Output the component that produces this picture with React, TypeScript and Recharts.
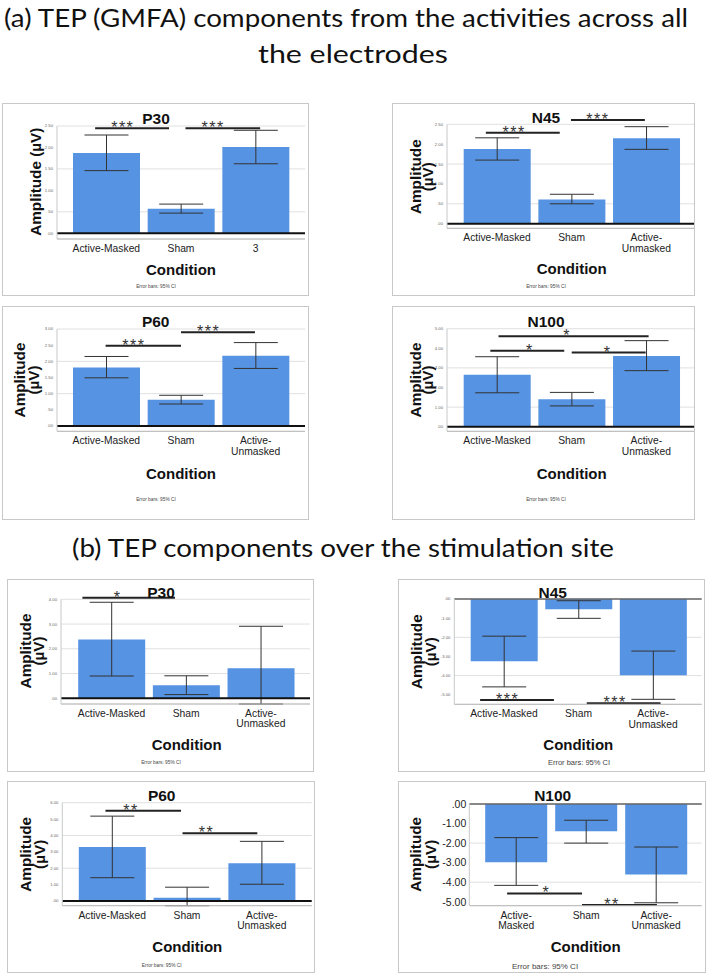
import React from 'react';
import {
  BarChart,
  Bar,
  XAxis,
  YAxis,
  CartesianGrid,
  ErrorBar,
  ReferenceLine,
} from 'recharts';

const SANS = '"Liberation Sans", Arial, sans-serif';
const HEAD = 'Lato, "Open Sans", sans-serif';
const BLUE = '#5693e3';

// categories (\n = line break in the tick label)
const condA1 = ['Active-Masked', 'Sham', '3'];
const condStd = ['Active-Masked', 'Sham', 'Active-\nUnmasked'];
const condB4 = ['Active-\nMasked', 'Sham', 'Active-\nUnmasked'];

// (a) GMFA, all electrodes: mean and 95% CI bounds
const gmfaP30Mean = [1.87, 0.57, 2.01];
const gmfaP30Low = [1.46, 0.47, 1.62];
const gmfaP30High = [2.29, 0.68, 2.4];

const gmfaN45Mean = [1.88, 0.61, 2.15];
const gmfaN45Low = [1.6, 0.5, 1.87];
const gmfaN45High = [2.16, 0.74, 2.44];

const gmfaP60Mean = [1.81, 0.81, 2.17];
const gmfaP60Low = [1.49, 0.68, 1.78];
const gmfaP60High = [2.15, 0.95, 2.58];

const gmfaN100Mean = [2.65, 1.4, 3.61];
const gmfaN100Low = [1.73, 1.06, 2.86];
const gmfaN100High = [3.57, 1.75, 4.39];

// (b) stimulation site
const siteP30Mean = [2.38, 0.53, 1.21];
const siteP30Low = [0.9, 0.15, -0.23];
const siteP30High = [3.88, 0.91, 2.91];

const siteN45Mean = [-3.25, -0.54, -3.98];
const siteN45Low = [-4.59, -1.01, -5.24];
const siteN45High = [-1.94, -0.09, -2.72];

const siteP60Mean = [3.29, 0.2, 2.3];
const siteP60Low = [1.42, -0.29, 1.02];
const siteP60High = [5.18, 0.84, 3.64];

const siteN100Mean = [-2.98, -1.39, -3.6];
const siteN100Low = [-4.16, -2.0, -5.05];
const siteN100High = [-1.72, -0.83, -2.2];

// y ticks
const ticksA1 = [0, 0.5, 1, 1.5, 2, 2.5];
const ticksA3 = [0, 0.5, 1, 1.5, 2, 2.5, 3];
const ticksA4 = [0, 1, 2, 3, 4, 5];
const ticksB1 = [0, 1, 2, 3, 4];
const ticksB3 = [0, 1, 2, 3, 4, 5, 6];
const ticksNeg = [-5, -4, -3, -2, -1, 0];

// significance brackets: from / to / at are positions along the category axis
// (band units: bar i covers i..i+1, its centre is i + 0.5)
const gmfaP30Sig = [
  { from: 0.35, to: 1.34, at: 0.72, y: 2.45, label: '***' },
  { from: 1.56, to: 2.56, at: 1.93, y: 2.45, label: '***' },
];
const gmfaN45Sig = [
  { from: 0.35, to: 1.34, at: 0.73, y: 2.29, label: '***' },
  { from: 1.49, to: 2.48, at: 1.85, y: 2.61, label: '***' },
];
const gmfaP60Sig = [
  { from: 0.49, to: 1.5, at: 0.87, y: 2.48, label: '***' },
  { from: 1.5, to: 2.49, at: 1.87, y: 2.9, label: '***' },
];
const gmfaN100Sig = [
  { from: 0.52, to: 2.53, at: 1.44, y: 4.61, label: '*' },
  { from: 0.41, to: 1.4, at: 0.94, y: 3.88, label: '*' },
  { from: 1.5, to: 2.49, at: 1.98, y: 3.78, label: '*' },
];
const siteP30Sig = [{ from: 0.11, to: 1.35, at: 0.58, y: 4.06, label: '*' }];
const siteN45Sig = [
  { from: 0.18, to: 1.17, at: 0.55, y: -5.28, label: '***' },
  { from: 1.61, to: 2.6, at: 1.99, y: -5.45, label: '***' },
];
const siteP60Sig = [
  { from: 0.41, to: 1.42, at: 0.75, y: 5.51, label: '**' },
  { from: 1.44, to: 2.44, at: 1.76, y: 4.13, label: '**' },
];
const siteN100Sig = [
  { from: 0.37, to: 1.44, at: 0.93, y: -4.57, label: '*' },
  { from: 1.44, to: 2.51, at: 1.87, y: -5.17, label: '**' },
];

type Sig = { from: number; to: number; at: number; y: number; label: string };

type Layout = {
  left: number;
  top: number;
  w: number;
  h: number;
  plotLeft: number;
  plotRight: number;
  plotTop: number;
  plotBottom: number;
  padL: number;
  padR: number;
  gap: number;
  title: [number, number];
  yLab: number[];
  yLabY: number;
  cond: [number, number];
  note: [number, number];
  noteSize: number;
  tickFont: number;
  zeroTop?: boolean;
};

const fmt = (v: number) => {
  const s = Math.abs(v).toFixed(2);
  return (v < 0 ? '-' : '') + (s.startsWith('0') ? s.slice(1) : s);
};

// nearest bar index for a band position
const bandIdx = (p: number) => Math.min(2, Math.max(0, Math.round(p - 0.5)));

const ConditionTick = ({ x, y, payload }: any) => {
  const lines = String(payload.value).split('\n');
  return (
    <text x={x} y={y} textAnchor="middle" fontSize={10.3} fill="#222" fontFamily={SANS}>
      {lines.map((l, i) => (
        <tspan key={i} x={x} dy={i === 0 ? 13 : 10.4}>
          {l}
        </tspan>
      ))}
    </text>
  );
};

interface PanelProps {
  title: string;
  categories: string[];
  mean: number[];
  low: number[];
  high: number[];
  ticks: number[];
  domain: [number, number];
  sig: Sig[];
  lay: Layout;
}

const Panel: React.FC<PanelProps> = ({ title, categories, mean, low, high, ticks, domain, sig, lay }) => {
  const cw = lay.w - 2;
  const ch = lay.h - 2;
  const data = categories.map((c, i) => ({
    name: c,
    mean: mean[i],
    err: [mean[i] - low[i], high[i] - mean[i]],
  }));
  const yLines = lay.yLab.length === 1 ? ['Amplitude (µV)'] : ['Amplitude', '(µV)'];

  return (
    <div
      style={{
        position: 'absolute',
        left: lay.left,
        top: lay.top,
        width: lay.w,
        height: lay.h,
        boxSizing: 'border-box',
        border: '1px solid #c8c8c8',
        background: '#fff',
      }}
    >
      <div style={{ position: 'absolute', left: 0, top: 0 }}>
        <BarChart
          width={cw}
          height={ch}
          data={data}
          margin={{ top: lay.plotTop, right: cw - lay.plotRight, left: 0, bottom: 0 }}
          barCategoryGap={lay.gap}
        >
          <CartesianGrid vertical={false} stroke="#e0e0e0" />
          <XAxis
            dataKey="name"
            height={ch - lay.plotBottom}
            padding={{ left: lay.padL, right: lay.padR }}
            tickLine={false}
            tickSize={0}
            tickMargin={0}
            axisLine={{ stroke: '#b8b8b8' }}
            tick={<ConditionTick />}
            interval={0}
          />
          <YAxis
            width={lay.plotLeft}
            domain={domain}
            ticks={ticks}
            allowDataOverflow
            tickFormatter={fmt}
            tickLine={false}
            tickSize={0}
            tickMargin={lay.tickFont > 6 ? 3 : 4}
            axisLine={{ stroke: '#c8c8c8' }}
            tick={{ fontSize: lay.tickFont, fill: lay.tickFont > 6 ? '#222' : '#666', fontFamily: SANS }}
          />
          <Bar dataKey="mean" fill={BLUE} isAnimationActive={false}>
            <ErrorBar dataKey="err" direction="y" width={22} stroke="#333" strokeWidth={1} isAnimationActive={false} />
          </Bar>
          <ReferenceLine y={0} stroke={lay.zeroTop ? '#666' : '#111'} strokeWidth={lay.zeroTop ? 1.5 : 2} />
          {sig.map((s, i) => {
            const i1 = bandIdx(s.from);
            const i2 = bandIdx(s.to);
            return (
              <ReferenceLine
                key={i}
                segment={[
                  { x: categories[i1], y: s.y },
                  { x: categories[i2], y: s.y },
                ]}
                ifOverflow="visible"
                shape={(p: any) => {
                  const lo = Math.min(p.x1, p.x2);
                  const hi = Math.max(p.x1, p.x2);
                  const bw = (hi - lo) / (i2 - i1);
                  const px = (v: number) => lo + (v - (i1 + 0.5)) * bw;
                  return (
                    <g>
                      <line x1={px(s.from)} y1={p.y1} x2={px(s.to)} y2={p.y1} stroke="#222" strokeWidth={2} />
                      <text
                        x={px(s.at)}
                        y={p.y1 + 5}
                        textAnchor="middle"
                        fontSize={16}
                        letterSpacing={1.5}
                        fill="#333"
                        fontFamily={SANS}
                      >
                        {s.label}
                      </text>
                    </g>
                  );
                }}
              />
            );
          })}
        </BarChart>
      </div>
      <svg
        width={cw}
        height={ch}
        style={{ position: 'absolute', left: 0, top: 0, pointerEvents: 'none' }}
        fontFamily={SANS}
      >
        <text x={lay.title[0]} y={lay.title[1]} textAnchor="middle" dominantBaseline="central" fontSize={15.5} fontWeight="bold" fill="#111">
          {title}
        </text>
        {yLines.map((t, i) => (
          <text
            key={t}
            transform={`translate(${lay.yLab[i]},${lay.yLabY}) rotate(-90)`}
            textAnchor="middle"
            dominantBaseline="central"
            fontSize={15.3}
            fontWeight="bold"
            fill="#111"
          >
            {t}
          </text>
        ))}
        <text x={lay.cond[0]} y={lay.cond[1]} textAnchor="middle" dominantBaseline="central" fontSize={15} fontWeight="bold" fill="#111">
          Condition
        </text>
        <text x={lay.note[0]} y={lay.note[1]} textAnchor="middle" dominantBaseline="central" fontSize={lay.noteSize} fill="#444">
          Error bars: 95% CI
        </text>
      </svg>
    </div>
  );
};

const layA1: Layout = {
  left: 2, top: 103, w: 307, h: 193,
  plotLeft: 54, plotRight: 302, plotTop: 22, plotBottom: 135,
  padL: 12, padR: 12, gap: 4,
  title: [153, 14.3], yLab: [32], yLabY: 77.7, cond: [178, 165], note: [153, 182], noteSize: 4.8, tickFont: 4.2,
};
const layA2: Layout = {
  left: 392, top: 103, w: 303, h: 193,
  plotLeft: 54, plotRight: 301, plotTop: 20.3, plotBottom: 124.3,
  padL: 12.7, padR: 10.3, gap: 4,
  title: [153, 13.7], yLab: [22, 34], yLabY: 72.7, cond: [178.7, 164.3], note: [153, 182], noteSize: 4.8, tickFont: 4.2,
};
const layA3: Layout = {
  left: 2, top: 306, w: 307, h: 214,
  plotLeft: 54, plotRight: 302, plotTop: 22, plotBottom: 124.3,
  padL: 12, padR: 12, gap: 4,
  title: [152.7, 14], yLab: [16, 30], yLabY: 73, cond: [178, 166], note: [153, 192], noteSize: 4.8, tickFont: 4.2,
};
const layA4: Layout = {
  left: 392, top: 306, w: 303, h: 214,
  plotLeft: 54, plotRight: 301, plotTop: 21.7, plotBottom: 124.3,
  padL: 12.7, padR: 10.3, gap: 4,
  title: [153, 14], yLab: [22, 34], yLabY: 73, cond: [178.7, 166], note: [153, 192], noteSize: 4.8, tickFont: 4.2,
};
const layB1: Layout = {
  left: 7, top: 579, w: 307, h: 193,
  plotLeft: 53, plotRight: 302, plotTop: 19.3, plotBottom: 124,
  padL: 13.2, padR: 11.8, gap: 4,
  title: [153, 12.3], yLab: [17, 30], yLabY: 71, cond: [178.7, 164], note: [153, 182], noteSize: 4.8, tickFont: 4.2,
};
const layB2: Layout = {
  left: 398, top: 579, w: 307, h: 193,
  plotLeft: 55.3, plotRight: 302.7, plotTop: 19, plotBottom: 124.3,
  padL: 12.4, padR: 11.3, gap: 4,
  title: [153.7, 12.3], yLab: [17, 31.7], yLabY: 71.7, cond: [179.3, 164], note: [180, 182], noteSize: 7.5, tickFont: 4.2,
  zeroTop: true,
};
const layB3: Layout = {
  left: 7, top: 781, w: 308, h: 192,
  plotLeft: 54.3, plotRight: 303.7, plotTop: 20.7, plotBottom: 123.7,
  padL: 12.5, padR: 12.5, gap: 4,
  title: [153.7, 13.7], yLab: [17, 31.3], yLabY: 72.3, cond: [179.3, 164], note: [153.7, 183], noteSize: 4.8, tickFont: 4.2,
};
const layB4: Layout = {
  left: 398, top: 781, w: 308, h: 192,
  plotLeft: 70.3, plotRight: 302.7, plotTop: 22, plotBottom: 123.7,
  padL: 11.9, padR: 10.5, gap: 4,
  title: [153.7, 13.7], yLab: [16, 31], yLabY: 72.3, cond: [186.7, 164], note: [146, 184], noteSize: 8, tickFont: 10.5,
  zeroTop: true,
};

export default function App() {
  return (
    <div style={{ position: 'absolute', left: 0, top: 0, width: 708, height: 976, background: '#fff', overflow: 'hidden' }}>
      <svg width={708} height={976} style={{ position: 'absolute', left: 0, top: 0 }} fontFamily={HEAD}>
        <text x={4} y={27} fontSize={25} fill="#111" textLength={684} lengthAdjust="spacingAndGlyphs">
          (a) TEP (GMFA) components from the activities across all
        </text>
        <text x={353} y={63} fontSize={25} fill="#111" textAnchor="middle" textLength={190} lengthAdjust="spacingAndGlyphs">
          the electrodes
        </text>
        <text x={72} y={557} fontSize={25} fill="#111" textLength={542} lengthAdjust="spacingAndGlyphs">
          (b) TEP components over the stimulation site
        </text>
      </svg>

      <Panel title="P30" categories={condA1} mean={gmfaP30Mean} low={gmfaP30Low} high={gmfaP30High}
        ticks={ticksA1} domain={[-0.133, 2.5]} sig={gmfaP30Sig} lay={layA1} />
      <Panel title="N45" categories={condStd} mean={gmfaN45Mean} low={gmfaN45Low} high={gmfaN45High}
        ticks={ticksA1} domain={[-0.116, 2.5]} sig={gmfaN45Sig} lay={layA2} />
      <Panel title="P60" categories={condStd} mean={gmfaP60Mean} low={gmfaP60Low} high={gmfaP60High}
        ticks={ticksA3} domain={[-0.164, 3]} sig={gmfaP60Sig} lay={layA3} />
      <Panel title="N100" categories={condStd} mean={gmfaN100Mean} low={gmfaN100Low} high={gmfaN100High}
        ticks={ticksA4} domain={[-0.235, 5]} sig={gmfaN100Sig} lay={layA4} />

      <Panel title="P30" categories={condStd} mean={siteP30Mean} low={siteP30Low} high={siteP30High}
        ticks={ticksB1} domain={[-0.23, 4]} sig={siteP30Sig} lay={layB1} />
      <Panel title="N45" categories={condStd} mean={siteN45Mean} low={siteN45Low} high={siteN45High}
        ticks={ticksNeg} domain={[-5.5, 0]} sig={siteN45Sig} lay={layB2} />
      <Panel title="P60" categories={condStd} mean={siteP60Mean} low={siteP60Low} high={siteP60High}
        ticks={ticksB3} domain={[-0.29, 6]} sig={siteP60Sig} lay={layB3} />
      <Panel title="N100" categories={condB4} mean={siteN100Mean} low={siteN100Low} high={siteN100High}
        ticks={ticksNeg} domain={[-5.2, 0]} sig={siteN100Sig} lay={layB4} />
    </div>
  );
}
